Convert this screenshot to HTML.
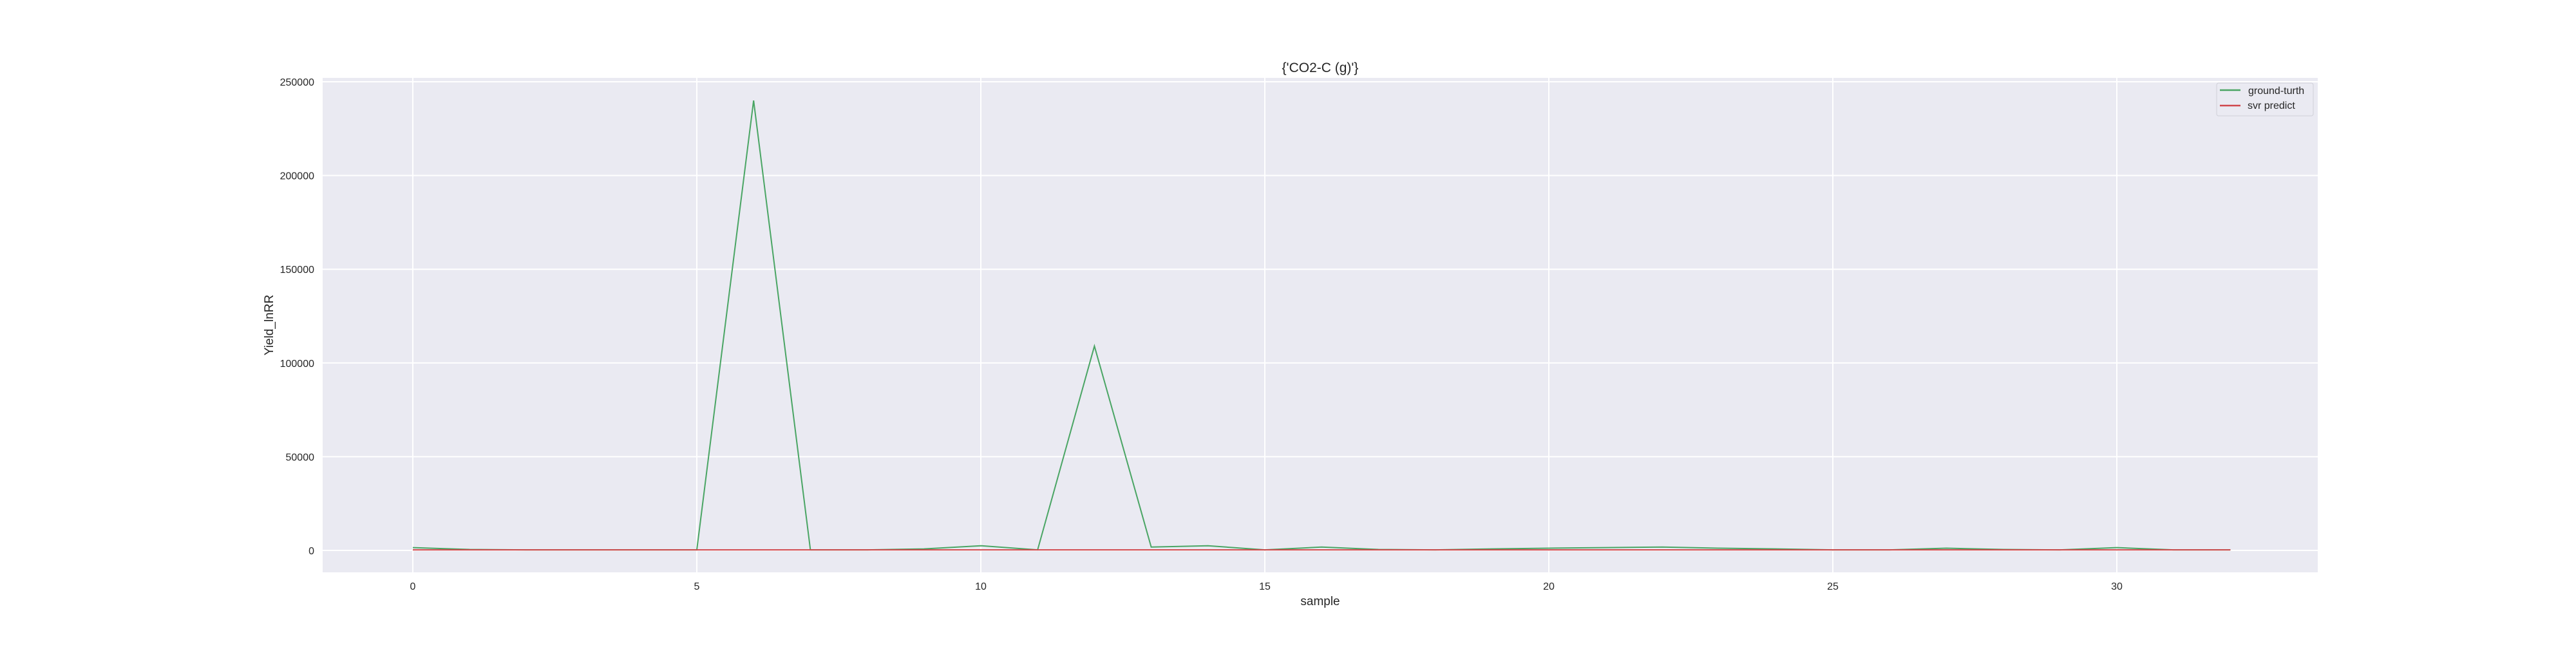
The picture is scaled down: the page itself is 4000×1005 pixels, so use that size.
<!DOCTYPE html>
<html><head><meta charset="utf-8"><style>
body{margin:0;background:#fff;}
svg text{font-family:"Liberation Sans","DejaVu Sans",sans-serif;fill:#262626;}
</style></head><body>
<svg id="chart" width="4000" height="1000" xmlns="http://www.w3.org/2000/svg">
<rect x="501" y="121" width="3098" height="768" fill="#eaeaf2"/>
<g id="grid"></g>
<g id="lines"></g>
<text x="2050" y="112" font-size="21" text-anchor="middle">{'CO2-C (g)'}</text>
<text x="2050" y="940" font-size="19" text-anchor="middle">sample</text>
<text x="0" y="0" font-size="19" text-anchor="middle" transform="translate(424,505) rotate(-90)">Yield_lnRR</text>
<g>
<rect x="3442" y="129" width="150" height="51" rx="3" fill="#eaeaf2" stroke="#d0d0d8"/>
<line x1="3447" y1="140" x2="3479" y2="140" stroke="#4aa564" stroke-width="2.5"/>
<text x="3491" y="146" font-size="16">ground-turth</text>
<line x1="3447" y1="164" x2="3479" y2="164" stroke="#d0474c" stroke-width="2.5"/>
<text x="3490" y="169" font-size="16">svr predict</text>
</g>
</svg>
<script>
const groundTruth=[1500,500,300,300,300,300,240000,300,300,800,2500,300,109000,1800,2500,300,1800,500,300,800,1200,1500,1800,1200,800,300,300,1200,500,300,1500,300,300];
const svrPredict=[300,300,300,300,300,300,300,300,300,300,300,300,300,300,300,300,300,300,300,300,300,300,300,300,300,300,300,300,300,300,300,300,300];
const xTicks=[0,5,10,15,20,25,30];
const yTicks=[0,50000,100000,150000,200000,250000];
const ns="http://www.w3.org/2000/svg";
const xs=i=>641+i*88.2;
const ys=v=>855-v*(728/250000);
const grid=document.getElementById('grid'),lines=document.getElementById('lines'),svg=document.getElementById('chart');
function mk(t,a,p){const e=document.createElementNS(ns,t);for(const k in a)e.setAttribute(k,a[k]);p.appendChild(e);return e;}
xTicks.forEach(t=>{
 const l=mk('line',{x1:xs(t),x2:xs(t),y1:121,y2:889,stroke:'#fff','stroke-width':2},grid);
 
 
 const tx=mk('text',{x:xs(t),y:916,'font-size':16,'text-anchor':'middle'},svg);
 tx.textContent=t;
 
 
});
yTicks.forEach(t=>{
 const l=mk('line',{x1:501,x2:3599,y1:ys(t),y2:ys(t),stroke:'#fff','stroke-width':2},grid);
 
 
 const tx=mk('text',{x:488,y:ys(t)+6,'font-size':16,'text-anchor':'end'},svg);
 tx.textContent=t;
 
 
});
function path(d,c,name){
 const p=mk('polyline',{points:d.map((v,i)=>xs(i)+','+ys(v)).join(' '),fill:'none',stroke:c,'stroke-width':2},lines);
 
 
}
path(groundTruth,'#4aa564','ground-truth-line');
path(svrPredict,'#d0474c','svr-predict-line');
</script>
</body></html>
